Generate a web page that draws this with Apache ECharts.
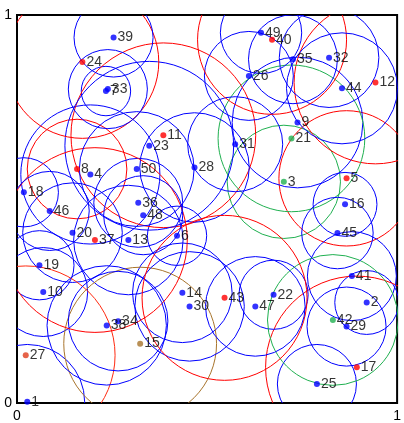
<!DOCTYPE html>
<html>
<head>
<meta charset="utf-8">
<script src="https://cdn.jsdelivr.net/npm/echarts@6/dist/echarts.min.js"></script>
<style>
  html, body { margin: 0; padding: 0; background: #fff; }
  #chart { width: 404px; height: 423px; }
</style>
</head>
<body>
<div id="chart"></div>
<script>
// Point ids, positions (unit square) and neighbourhood radii (x-axis units)
const ids = [1,2,3,4,5,6,7,8,9,10,11,12,13,14,15,16,17,18,19,20,21,22,23,24,25,26,27,28,29,30,31,32,33,34,35,36,37,38,39,40,41,42,43,44,45,46,47,48,49,50];
const xs = [0.027,0.920,0.702,0.193,0.867,0.421,0.234,0.158,0.738,0.069,0.385,0.943,0.293,0.435,0.324,0.863,0.894,0.018,0.059,0.146,0.722,0.675,0.348,0.172,0.789,0.610,0.023,0.467,0.867,0.454,0.574,0.821,0.239,0.266,0.726,0.319,0.205,0.236,0.254,0.671,0.881,0.831,0.546,0.855,0.843,0.086,0.627,0.332,0.642,0.315];
const ys = [0.003,0.259,0.570,0.589,0.579,0.431,0.804,0.603,0.723,0.286,0.690,0.826,0.420,0.284,0.153,0.512,0.092,0.543,0.355,0.439,0.682,0.279,0.663,0.879,0.049,0.843,0.123,0.607,0.197,0.249,0.667,0.890,0.809,0.211,0.886,0.516,0.420,0.200,0.942,0.936,0.327,0.214,0.271,0.811,0.438,0.495,0.249,0.484,0.954,0.603];
const radii = [0.151,0.084,0.149,0.183,0.178,0.078,0.065,0.131,0.172,0.117,0.243,0.214,0.144,0.131,0.201,0.084,0.240,0.091,0.091,0.131,0.193,0.091,0.222,0.201,0.104,0.117,0.235,0.144,0.104,0.144,0.125,0.131,0.104,0.131,0.117,0.117,0.243,0.157,0.104,0.196,0.117,0.172,0.217,0.146,0.094,0.104,0.131,0.104,0.107,0.151];
// class of each point: 0 blue, 1 red, 2 green, 3 brown, 4 orange-red
const classes = [0,0,2,0,1,0,0,1,0,0,1,1,0,0,3,0,1,0,0,0,2,0,0,1,0,0,4,0,0,0,0,0,0,0,0,0,1,0,0,1,0,2,1,0,0,0,0,0,0,0];
const pointColors = ['#0000ff', '#ff0000', '#1fb050', '#a8742c', '#e03c1c'];
const ringColors = ['#0000ff', '#ff0000', '#1fb050', '#a8742c', '#ff2a10'];
const axisTicks = [0, 1];

const circleData = ids.map((id, i) => [xs[i], ys[i], radii[i], classes[i]]);
const pointData = ids.map((id, i) => ({
  value: [xs[i], ys[i]],
  name: String(id),
  itemStyle: { color: pointColors[classes[i]] }
}));

const chart = echarts.init(document.getElementById('chart'), null, { renderer: 'canvas' });
const labelStyle = { color: '#000', fontSize: 14, fontFamily: 'Liberation Sans, Arial, sans-serif' };

chart.setOption({
  animation: false,
  grid: { left: 17, right: 4, top: 15, bottom: 18, show: true, borderColor: '#000', borderWidth: 2, backgroundColor: '#fff' },
  xAxis: {
    type: 'value', min: axisTicks[0], max: axisTicks[1], interval: 1,
    axisLine: { show: false }, axisTick: { show: false }, splitLine: { show: false },
    axisLabel: Object.assign({ margin: 6 }, labelStyle)
  },
  yAxis: {
    type: 'value', min: axisTicks[0], max: axisTicks[1], interval: 1,
    axisLine: { show: false }, axisTick: { show: false }, splitLine: { show: false },
    axisLabel: Object.assign({ margin: 5 }, labelStyle)
  },
  series: [
    {
      type: 'custom',
      clip: true,
      silent: true,
      data: circleData,
      renderItem: function (params, api) {
        const c = api.coord([api.value(0), api.value(1)]);
        const r = api.size([api.value(2), 0])[0];
        return {
          type: 'circle',
          shape: { cx: c[0], cy: c[1], r: r },
          style: { fill: 'none', stroke: ringColors[api.value(3)], lineWidth: 1 }
        };
      },
      z: 1
    },
    {
      type: 'scatter',
      symbol: 'circle',
      symbolSize: 6,
      data: pointData,
      label: {
        show: true,
        position: 'right',
        distance: 1,
        formatter: p => p.name,
        color: '#000', fontSize: 14, fontFamily: 'Liberation Sans, Arial, sans-serif'
      },
      labelLayout: { hideOverlap: false },
      z: 3
    }
  ]
});
</script>
</body>
</html>
